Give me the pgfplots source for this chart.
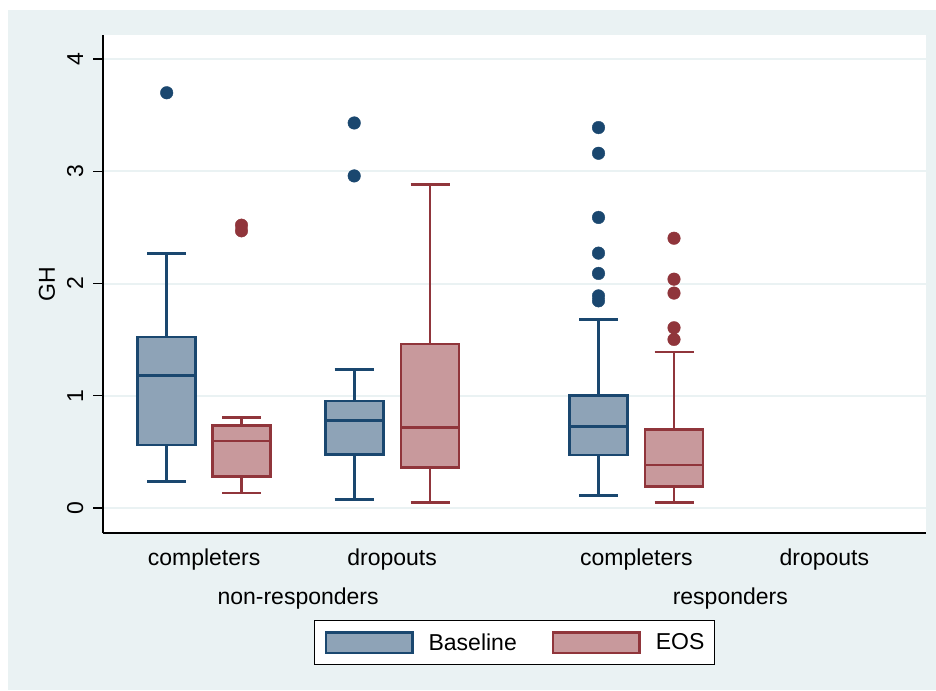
\documentclass[border=0pt]{standalone}
\usepackage{fontspec}
\setmainfont{Liberation Sans}
\usepackage{pgfplots}
\pgfplotsset{compat=1.18}
\usepgfplotslibrary{statistics}

\definecolor{bgc}{HTML}{EAF2F3}
\definecolor{gridc}{HTML}{EAF2F3}
\definecolor{basec}{HTML}{1A476F}
\definecolor{basef}{HTML}{8EA3B7}
\definecolor{eosc}{HTML}{90353B}
\definecolor{eosf}{HTML}{C8999C}

\newcommand{\lbl}{\fontsize{23}{27}\selectfont}

\pgfplotsset{
  basebox/.style={draw=basec, fill=basef, line width=2.6pt, line join=miter, solid},
  eosbox/.style={draw=eosc, fill=eosf, line width=2.6pt, line join=miter, solid},
  baseout/.style={only marks, color=basec, mark=*, mark size=6.3pt, mark options={draw=basec, fill=basec, line width=0.4pt}},
  eosout/.style={only marks, color=eosc, mark=*, mark size=6.3pt, mark options={draw=eosc, fill=eosc, line width=0.4pt}},
}

\begin{document}
\begin{tikzpicture}[x=1pt,y=1pt]
% page and outer panel
\fill[white] (0,0) rectangle (936,690);
\fill[bgc] (8,0) rectangle (936,680);
\begin{axis}[
  at={(103pt,157pt)}, anchor=south west,
  scale only axis, width=823pt, height=498pt,
  xmin=1.03, xmax=9.26, ymin=-0.223, ymax=4.215,
  axis background/.style={fill=white},
  axis x line*=bottom, axis y line*=left,
  axis line style={line width=1.3pt, black},
  tick pos=left,
  ytick={0,1,2,3,4},
  tick align=outside, major tick length=10pt,
  ytick style={line width=1.3pt, black},
  ymajorgrids, grid style={line width=2pt, gridc},
  /pgf/number format/assume math mode=true,
  tick label style={font=\lbl},
  yticklabel style={xshift=-10pt, rotate=90, anchor=base, inner sep=0pt},
  ylabel={GH},
  ylabel style={font=\lbl, at={(axis description cs:-0.068,0.5)}, anchor=center, inner sep=0pt},
  xtick={2.041,3.921,6.363,8.243},
  xticklabels={completers,dropouts,completers,dropouts},
  xtick style={draw=none},
  xticklabel style={anchor=base, inner sep=0pt, yshift=-22pt},
  extra x ticks={2.981,7.303},
  extra x tick labels={non-responders,responders},
  extra x tick style={xticklabel style={yshift=-39pt}, tick style={draw=none}},
  boxplot/draw direction=y,
  boxplot/every box/.style={line width=2.6pt},
  boxplot/every whisker/.style={line width=2.6pt},
  boxplot/every median/.style={line width=2.6pt},
  legend columns=2,
  legend style={at={(axis description cs:0.5,-0.1747)}, anchor=north,
    draw=black, line width=1.3pt, fill=white,
    inner xsep=10pt, inner ysep=10.5pt,
    font=\lbl, nodes={inner sep=0pt},
    /tikz/every odd column/.append style={column sep=15pt},
    /tikz/every even column/.append style={column sep=35pt}},
]
% legend swatches
\addlegendimage{legend image code/.code={\draw[draw=basec, fill=basef, line width=2.6pt] (1.3pt,-10.2pt) rectangle (87.7pt,10.2pt);}}
\addlegendentry{Baseline}
\addlegendimage{legend image code/.code={\draw[draw=eosc, fill=eosf, line width=2.6pt] (1.3pt,-10.2pt) rectangle (87.7pt,10.2pt);}}
\addlegendentry{EOS}

% non-responders, completers
\addplot[basebox, forget plot, boxplot prepared={draw position=1.667,
  lower whisker=0.238, lower quartile=0.561, median=1.178,
  upper quartile=1.523, upper whisker=2.27, box extend=0.58, whisker extend=0.39}]
  coordinates {};
\addplot[baseout, forget plot] coordinates {(1.667,3.70)};
\addplot[eosbox, forget plot, boxplot prepared={draw position=2.415,
  lower whisker=0.134, lower quartile=0.279, median=0.597,
  upper quartile=0.736, upper whisker=0.808, box extend=0.58, whisker extend=0.39}]
  coordinates {};
\addplot[eosout, forget plot] coordinates {(2.415,2.47) (2.415,2.52)};

% non-responders, dropouts
\addplot[basebox, forget plot, boxplot prepared={draw position=3.542,
  lower whisker=0.074, lower quartile=0.475, median=0.777,
  upper quartile=0.953, upper whisker=1.235, box extend=0.58, whisker extend=0.39}]
  coordinates {};
\addplot[baseout, forget plot] coordinates {(3.542,2.959) (3.542,3.431)};
\addplot[eosbox, forget plot, boxplot prepared={draw position=4.300,
  lower whisker=0.051, lower quartile=0.359, median=0.715,
  upper quartile=1.463, upper whisker=2.885, box extend=0.58, whisker extend=0.39}]
  coordinates {};

% responders, completers
\addplot[basebox, forget plot, boxplot prepared={draw position=5.985,
  lower whisker=0.110, lower quartile=0.472, median=0.728,
  upper quartile=1.004, upper whisker=1.677, box extend=0.58, whisker extend=0.39}]
  coordinates {};
\addplot[baseout, forget plot] coordinates {(5.985,1.846) (5.985,1.890) (5.985,2.090)
  (5.985,2.271) (5.985,2.589) (5.985,3.161) (5.985,3.390)};
\addplot[eosbox, forget plot, boxplot prepared={draw position=6.740,
  lower whisker=0.051, lower quartile=0.190, median=0.383,
  upper quartile=0.701, upper whisker=1.389, box extend=0.58, whisker extend=0.39}]
  coordinates {};
\addplot[eosout, forget plot] coordinates {(6.740,1.502) (6.740,1.606) (6.740,1.915)
  (6.740,2.039) (6.740,2.404)};
\end{axis}
\end{tikzpicture}
\end{document}
